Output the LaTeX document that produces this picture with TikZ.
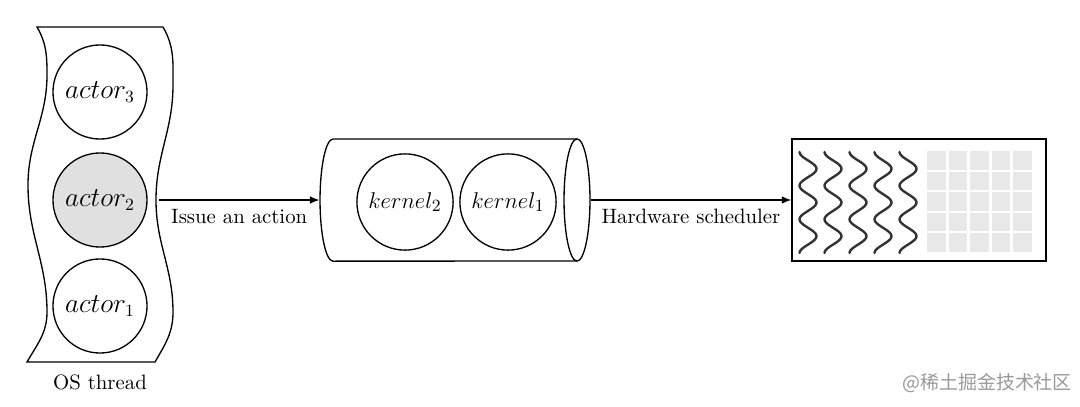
\documentclass[tikz,border=0pt,11pt]{standalone}
\usepackage{fontspec}
\newfontfamily\cjkfont{Noto Sans CJK SC}
\usetikzlibrary{arrows.meta, positioning}

\tikzset{
  actor/.style = {circle, draw, line width=0.7pt, minimum size=1.74cm, inner sep=0pt, font=\fontsize{13.5}{16}\selectfont},
  kernel/.style = {circle, draw, line width=0.7pt, minimum size=1.78cm, inner sep=0pt, font=\fontsize{12.3}{15}\selectfont},
  flow/.style = {-{Latex[length=5pt,width=4pt]}, line width=0.7pt},
  wave/.style = {line width=1.25pt, draw=black!80, line cap=round},
  cell/.style = {fill=black!9},
}

\begin{document}
\begin{tikzpicture}[x=0.185mm, y=0.185mm]
    \useasboundingbox (0,0) rectangle (1080,-407);

    %os thread band
    \draw[line width=0.7pt] (37,-27) -- (163,-27)
      to[out=-60,in=90] (173,-85) to[out=-90,in=90] (156,-200)
      to[out=-90,in=90] (173,-312) to[out=-90,in=60] (155,-362)
      -- (27,-362)
      to[out=60,in=-90] (47,-312) to[out=90,in=-90] (28,-185)
      to[out=90,in=-90] (47,-75) to[out=90,in=-60] (37,-27) -- cycle;
    \coordinate (osedge) at (159,-200);

    \node[actor] (actor3) at (100,-92) {$actor_3$};
    \node[actor, fill=black!12] (actor2) at (100,-200) {$actor_2$};
    \node[actor] (actor1) at (100,-306) {$actor_1$};
    \node (osthread) at (100,-382) {OS thread};

    %kernel queue (cylinder lying on its side)
    \node[minimum width=5cm, minimum height=2.26cm, inner sep=0pt] (queue) at (455,-200) {};
    \draw[line width=0.7pt] (577,-139) -- (333,-139)
      arc[start angle=90, end angle=270, x radius=2.4mm, y radius=11.3mm] -- (577,-261);
    \draw[line width=0.7pt] (577,-200) ellipse [x radius=2.4mm, y radius=11.3mm];
    \node[kernel] (kernel2) at (405,-202) {$kernel_2$};
    \node[kernel] (kernel1) at (508,-202) {$kernel_1$};

    %gpu
    \node[draw, line width=0.7pt, minimum width=4.7cm, minimum height=2.26cm,
          inner sep=0pt] (gpu) at (919,-200) {};
    \foreach \cx in {808,833,858,883,908}
      \draw[wave] plot[domain=0:101, samples=70, smooth]
        ({\cx-8.5*cos(10.692*\x)}, {-152-\x});
    \foreach \i in {0,...,4}
      \foreach \j in {0,...,4}
        \fill[cell] ({927+21.5*\i},{-151-20.5*\j}) rectangle ++(18.5,-18.5);

    %arrows
    \draw[flow] (osedge) -- (queue.west)
      node[midway, below=1pt] (issue) {Issue an action};
    \draw[flow] (queue.east) -- (gpu.west)
      node[midway, below=1pt] (hwsched) {Hardware scheduler};

    \node[text=black!40, font=\cjkfont\fontsize{10}{12}\selectfont] (mark)
      at (987,-383) {@稀土掘金技术社区};

\end{tikzpicture}
\end{document}
